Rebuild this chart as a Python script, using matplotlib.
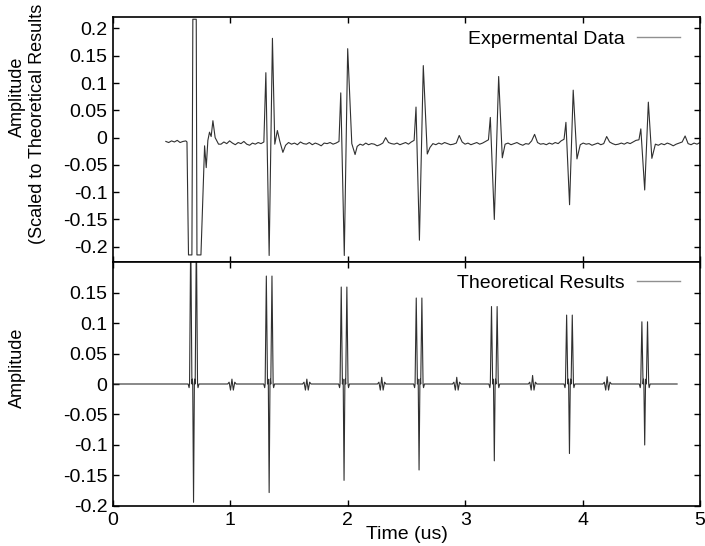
import numpy as np
import matplotlib
matplotlib.use('Agg')
import matplotlib.pyplot as plt
from matplotlib.lines import Line2D

plt.rcParams['font.family'] = ['Liberation Sans', 'DejaVu Sans']
plt.rcParams['font.size'] = 14
plt.rcParams['axes.unicode_minus'] = False

# ---- experimental data (top) ----
# first pulse, saturated, read point by point
exp_p1_t = [0.630, 0.643, 0.672, 0.680, 0.709, 0.715, 0.749, 0.780, 0.794, 0.808, 0.822, 0.836, 0.851, 0.870, 0.899]
exp_p1_a = [-0.008, -0.215, -0.215, 0.217, 0.217, -0.215, -0.215, -0.015, -0.055, -0.005, 0.010, 0.002, 0.031, 0.000, -0.012]

# pulses 2-7: lead peak, main negative, main positive, dip after
exp_small_t = [1.302, 1.940, 2.581, 3.214, 3.858, 4.496]
exp_small_a = [0.119, 0.082, 0.056, 0.037, 0.028, 0.016]
exp_neg_t = [1.330, 1.970, 2.610, 3.248, 3.889, 4.529]
exp_neg_a = [-0.216, -0.216, -0.188, -0.150, -0.123, -0.096]
exp_big_t = [1.358, 1.999, 2.643, 3.285, 3.920, 4.560]
exp_big_a = [0.182, 0.163, 0.132, 0.112, 0.087, 0.065]
exp_dip_t = [1.447, 2.062, 2.677, 3.316, 3.952, 4.590]
exp_dip_a = [-0.027, -0.031, -0.030, -0.037, -0.039, -0.038]

# extra ringing after pulses 2 and 3
exp_ring_t = [1.378, 1.400, 1.420, 2.034]
exp_ring_a = [-0.012, 0.013, -0.006, -0.011]

# noisy baseline between pulses
base_start = [0.45, 0.92, 1.47, 2.08, 2.70, 3.34, 3.98, 4.62]
base_end = [0.62, 1.285, 1.925, 2.565, 3.198, 3.842, 4.480, 5.00]
base_vals = [
    [-0.007, -0.009, -0.006, -0.008, -0.005, -0.009, -0.007, -0.006],
    [-0.012, -0.008, -0.011, -0.006, -0.010, -0.013, -0.009, -0.011, -0.007, -0.012,
     -0.014, -0.010, -0.012, -0.009, -0.011, -0.008],
    [-0.014, -0.009, -0.012, -0.010, -0.013, -0.008, -0.011, -0.012, -0.009, -0.013,
     -0.010, -0.012, -0.015, -0.010, -0.011, -0.009, -0.012, -0.010, -0.007],
    [-0.016, -0.012, -0.014, -0.010, -0.013, -0.011, -0.012, -0.015, -0.013, -0.010,
     0.000, -0.009, -0.011, -0.012, -0.010, -0.013, -0.011, -0.009, -0.012, -0.008, -0.005],
    [-0.018, -0.011, -0.013, -0.010, -0.012, -0.009, -0.011, -0.013, -0.012, -0.010,
     0.004, -0.008, -0.012, -0.010, -0.013, -0.011, -0.009, -0.012, -0.010, -0.007, -0.004],
    [-0.012, -0.010, -0.013, -0.011, -0.009, -0.012, -0.014, -0.011, -0.012, -0.006,
     0.006, -0.009, -0.012, -0.011, -0.013, -0.010, -0.012, -0.009, -0.011, -0.006, -0.003],
    [-0.013, -0.010, -0.012, -0.011, -0.014, -0.012, -0.010, -0.013, -0.011, 0.002,
     -0.008, -0.011, -0.013, -0.012, -0.010, -0.012, -0.009, -0.011, -0.008, -0.005, -0.004],
    [-0.012, -0.014, -0.011, -0.013, -0.010, -0.012, -0.015, -0.012, -0.010, -0.008,
     0.003, -0.011, -0.013, -0.010, -0.012, -0.009],
]

# ---- theoretical results (bottom) ----
theo_center = [0.686, 1.330, 1.968, 2.607, 3.248, 3.888, 4.529]
theo_pos = [0.25, 0.177, 0.159, 0.141, 0.127, 0.113, 0.102]
theo_neg = [-0.194, -0.178, -0.158, -0.141, -0.126, -0.114, -0.100]
theo_end = 4.805
wig_t = [1.013, 1.651, 2.289, 2.928, 3.574, 4.209]
wig_a = [0.008, 0.008, 0.011, 0.011, 0.014, 0.012]

# build experimental trace
et = list(exp_p1_t) + list(exp_ring_t)
ea = list(exp_p1_a) + list(exp_ring_a)
for i in range(len(exp_small_t)):
    et += [exp_small_t[i], exp_neg_t[i], exp_big_t[i], exp_dip_t[i]]
    ea += [exp_small_a[i], exp_neg_a[i], exp_big_a[i], exp_dip_a[i]]
for s, e, v in zip(base_start, base_end, base_vals):
    et += list(np.linspace(s, e, len(v)))
    ea += v
et = np.array(et)
ea = np.array(ea)
order = np.argsort(et)
et, ea = et[order], ea[order]

# build theoretical trace
spike_off = [-0.046, -0.038, -0.034, -0.024, -0.014, -0.010, -0.007, 0.0,
             0.007, 0.010, 0.014, 0.024, 0.034, 0.038, 0.046]
wig_off = [-0.036, -0.024, -0.012, 0.0, 0.012, 0.024, 0.036]
tt = [0.0, theo_end]
ta = [0.0, 0.0]
for c, p, n in zip(theo_center, theo_pos, theo_neg):
    tt += [c + o for o in spike_off]
    ta += [0, -0.006, 0, p, 0, 0.008, 0, n, 0, 0.008, 0, p, 0, -0.006, 0]
for c, a in zip(wig_t, wig_a):
    tt += [c + o for o in wig_off]
    ta += [0, 0.003, -0.010, a, -0.010, 0.003, 0]
tt = np.array(tt)
ta = np.array(ta)
order = np.argsort(tt)
tt, ta = tt[order], ta[order]

fig = plt.figure(figsize=(7.05, 5.46), dpi=100)
ax1 = fig.add_axes([0.1603, 0.5201, 0.8326, 0.4487])
ax2 = fig.add_axes([0.1603, 0.0733, 0.8326, 0.4468])

line_c = '#303030'
ax1.plot(et, ea, color=line_c, lw=0.8)
ax2.plot(tt, ta, color=line_c, lw=0.8)

ax1.set_xlim(0, 5)
ax1.set_ylim(-0.228, 0.221)
ax1.set_yticks([-0.2, -0.15, -0.1, -0.05, 0, 0.05, 0.1, 0.15, 0.2])
ax1.set_yticklabels(['-0.2', '-0.15', '-0.1', '-0.05', '0', '0.05', '0.1', '0.15', '0.2'])
ax1.set_xticks([0, 1, 2, 3, 4, 5])
ax1.tick_params(labelbottom=False)

ax2.set_xlim(0, 5)
ax2.set_ylim(-0.2, 0.2)
ax2.set_yticks([-0.2, -0.15, -0.1, -0.05, 0, 0.05, 0.1, 0.15])
ax2.set_yticklabels(['-0.2', '-0.15', '-0.1', '-0.05', '0', '0.05', '0.1', '0.15'])
ax2.set_xticks([0, 1, 2, 3, 4, 5])
ax2.set_xticklabels(['0', '1', '2', '3', '4', '5'])
ax2.set_xlabel('Time (us)', labelpad=-2)

for ax in (ax1, ax2):
    ax.tick_params(direction='in', top=True, right=True, length=4, width=1, pad=4)
    for sp in ax.spines.values():
        sp.set_linewidth(1.2)

leg_c = '#909090'
ax1.legend([Line2D([], [], color=leg_c, lw=1)], ['Expermental Data'], loc='center right',
           bbox_to_anchor=(0.966, 0.91), frameon=False, markerfirst=False,
           handlelength=2.2, handletextpad=0.65, borderpad=0, borderaxespad=0)
ax2.legend([Line2D([], [], color=leg_c, lw=1)], ['Theoretical Results'], loc='center right',
           bbox_to_anchor=(0.966, 0.914), frameon=False, markerfirst=False,
           handlelength=2.2, handletextpad=0.65, borderpad=0, borderaxespad=0)

fig.text(17 / 705, 0.822, 'Amplitude', rotation=90, ha='center', va='center', fontsize=13)
fig.text(38 / 705, 0.773, '(Scaled to Theoretical Results', rotation=90, ha='center', va='center', fontsize=13)
fig.text(17 / 705, 0.326, 'Amplitude', rotation=90, ha='center', va='center', fontsize=13)

plt.savefig('out.png', dpi=100)
